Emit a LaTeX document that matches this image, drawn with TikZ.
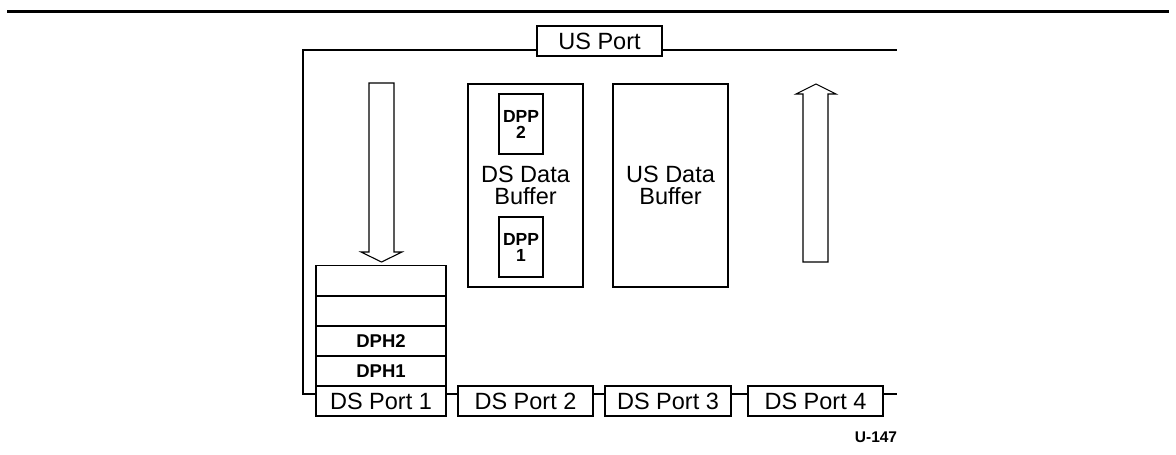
\documentclass[tikz,border=0pt]{standalone}
\usepackage{fontspec}
\setmainfont{Liberation Sans}
\tikzset{
  x=1pt, y=-1pt,
  ln/.style={draw=black, line width=1.1pt},
  box/.style={ln, rectangle, inner sep=0pt, align=center},
  port/.style={box, minimum height=30pt, font=\fontsize{23.5}{26}\selectfont},
  buf/.style={box, minimum width=115pt, minimum height=203pt, font=\fontsize{23.5}{21.5}\selectfont},
  dpp/.style={box, minimum width=44pt, minimum height=60pt, font=\bfseries\fontsize{17.5}{16}\selectfont},
  stk/.style={box, minimum width=130pt, minimum height=30pt, font=\bfseries\fontsize{18.5}{20}\selectfont},
  bigarrow/.style={ln, line width=1.1pt, line join=miter},
}
\begin{document}
\begin{tikzpicture}
\useasboundingbox (0,0) rectangle (1176,455);
% top rule
\coordinate (rl) at (7,11);
\coordinate (rr) at (1169,11);
\draw[line width=3pt] (rl) -- (rr);

% frame corners
\coordinate (tl) at (303,50);
\coordinate (tr) at (897,50);
\coordinate (bl) at (303,394);
\coordinate (br) at (897,394);

% US port
\node[port, minimum width=125pt] (usport) at (599.5,41) {US Port};

% stack and DS ports
\node[stk] (s4) at (381,280.5) {};
\node[stk] (s3) at (381,311) {};
\node[stk] (dph2) at (381,341) {DPH2};
\node[stk] (dph1) at (381,371) {DPH1};
\node[port, minimum width=130pt] (p1) at (381,401) {DS Port 1};
\node[port, minimum width=135pt] (p2) at (525.5,401) {DS Port 2};
\node[port, minimum width=126pt] (p3) at (668,401) {DS Port 3};
\node[port, minimum width=135pt] (p4) at (815.5,401) {DS Port 4};

% buffers
\node[buf] (dsbuf) at (525.5,185.5) {DS Data\\Buffer};
\node[buf] (usbuf) at (670.5,185.5) {US Data\\Buffer};
\node[dpp] (dpp2) at (521,124) {DPP\\2};
\node[dpp] (dpp1) at (521,247) {DPP\\1};

% frame lines
\draw[ln] (usport.west |- tl) -- (tl) -- (bl) -- (bl -| p1.west);
\draw[ln] (usport.east |- tr) -- (tr);
\draw[ln] (p1.east |- bl) -- (p2.west |- bl);
\draw[ln] (p2.east |- bl) -- (p3.west |- bl);
\draw[ln] (p3.east |- bl) -- (p4.west |- bl);
\draw[ln] (p4.east |- br) -- (br);

% big arrows
\draw[bigarrow] (369,83) -- (394,83) -- (394,252) -- (402,252) -- (381.5,262)
  -- (361,252) -- (369,252) -- cycle;
\draw[bigarrow] (803,262) -- (828,262) -- (828,94) -- (836,94) -- (816,84)
  -- (796,94) -- (803,94) -- cycle;

% label
\node[font=\bfseries\fontsize{15.5}{16}\selectfont, inner sep=0pt] (lbl) at (876,437) {U-147};
\end{tikzpicture}
\end{document}
